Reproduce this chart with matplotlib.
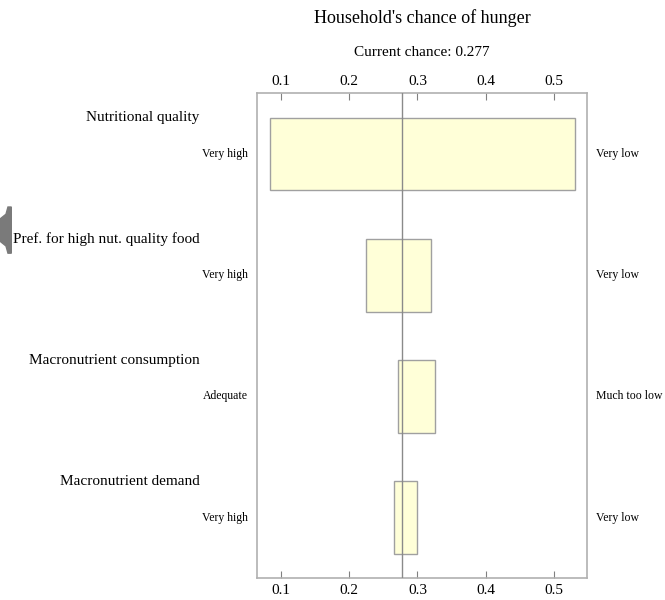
import matplotlib.pyplot as plt
import numpy as np
from matplotlib.patches import Polygon

factors = ["Nutritional quality", "Pref. for high nut. quality food",
           "Macronutrient consumption", "Macronutrient demand"]
left_labels = ["Very high", "Very high", "Adequate", "Very high"]
right_labels = ["Very low", "Very low", "Much too low", "Very low"]
low_vals = [0.085, 0.225, 0.271, 0.266]
high_vals = [0.530, 0.320, 0.326, 0.300]
current = 0.277
ticks = [0.1, 0.2, 0.3, 0.4, 0.5]

plt.rcParams['font.family'] = ['Liberation Serif', 'DejaVu Serif']

fig = plt.figure(figsize=(6.65, 6.0), dpi=100)
ax = fig.add_axes([0.387, 0.036, 0.495, 0.8085])

y = np.arange(len(factors))
low = np.array(low_vals)
high = np.array(high_vals)
ax.barh(y, high - low, left=low, height=0.6, color="#ffffd8",
        edgecolor="#a0a0a0", linewidth=1.0, zorder=2)
ax.axvline(current, color="#8a8a8a", linewidth=1.0, zorder=3)

ax.set_xlim(0.0658, 0.5474)
ax.set_ylim(3.5, -0.5)
ax.set_yticks([])
ax.set_xticks(ticks)
ax.set_xticklabels([f"{t:.1f}" for t in ticks])
ax.tick_params(axis="x", direction="in", top=True, labeltop=True,
               length=5, color="#808080", labelsize=11, pad=4)
for s in ax.spines.values():
    s.set_color("#b0b0b0")
    s.set_linewidth(1.2)

for i in range(len(factors)):
    ax.text(-0.175, (i - 0.3 - 0.0) / 1.0, factors[i], transform=ax.get_yaxis_transform(),
            ha="right", va="center", fontsize=11)
    ax.text(-0.03, i, left_labels[i], transform=ax.get_yaxis_transform(),
            ha="right", va="center", fontsize=8.5)
    ax.text(1.03, i, right_labels[i], transform=ax.get_yaxis_transform(),
            ha="left", va="center", fontsize=8.5)

fig.text(0.6345, 0.97, "Household's chance of hunger", ha="center", va="center", fontsize=13)
fig.text(0.6345, 0.913, "Current chance: 0.277", ha="center", va="center", fontsize=11)

# grey tab at left edge
tab = Polygon([(0.012, 0.655), (0.017, 0.655), (0.017, 0.578), (0.012, 0.578),
               (0.009, 0.590), (0.0, 0.598), (0.0, 0.635), (0.009, 0.643)],
              closed=True, transform=fig.transFigure, color="#7a7a7a")
fig.patches.append(tab)

fig.savefig("out.png", dpi=100)
